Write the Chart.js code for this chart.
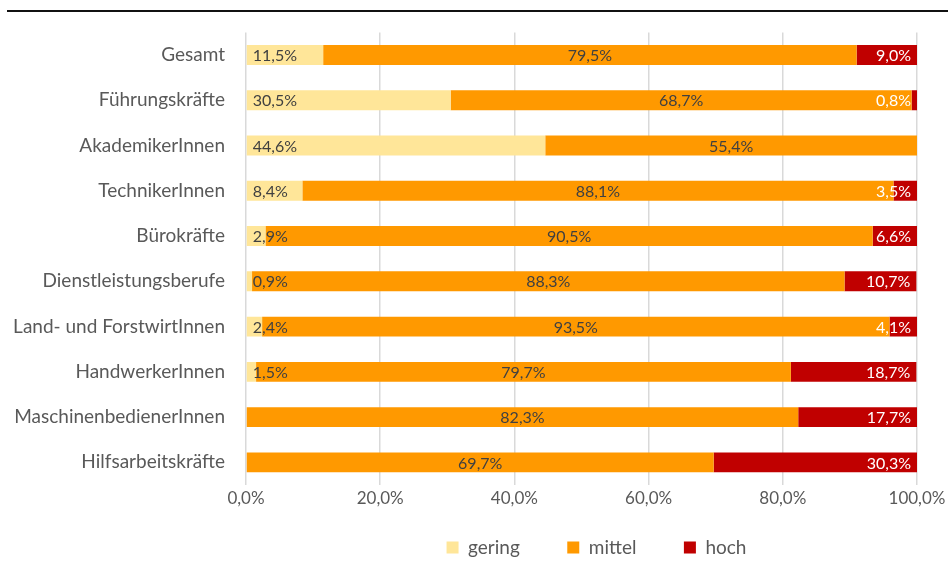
<!DOCTYPE html>
<html lang="de">
<head>
  <meta charset="UTF-8">
  <title>Anforderungsniveau nach Berufsgruppe</title>
  <script src="https://cdn.jsdelivr.net/npm/chart.js"></script>
  <style>
    body { margin: 0; background: #fff; }
    #wrap { position: relative; width: 948px; height: 583px; }
    #topline { position: absolute; left: 7px; right: 0; top: 10px; height: 2px; background: #111; }
  </style>
</head>
<body>
<div id="wrap">
  <div id="topline"></div>
  <canvas id="myChart" width="948" height="583"></canvas>
</div>
<script>
  // Kategorien und Anteile in Prozent
  const categories = ['Gesamt', 'Führungskräfte', 'AkademikerInnen', 'TechnikerInnen', 'Bürokräfte',
    'Dienstleistungsberufe', 'Land- und ForstwirtInnen', 'HandwerkerInnen', 'MaschinenbedienerInnen', 'Hilfsarbeitskräfte'];
  const gering = [11.5, 30.5, 44.6, 8.4, 2.9, 0.9, 2.4, 1.5, 0, 0];
  const mittel = [79.5, 68.7, 55.4, 88.1, 90.5, 88.3, 93.5, 79.7, 82.3, 69.7];
  const hoch   = [9.0, 0.8, 0, 3.5, 6.6, 10.7, 4.1, 18.7, 17.7, 30.3];
  const xTicks = [0, 20, 40, 60, 80, 100];

  const FONT = 'Lato, "DejaVu Sans", sans-serif';
  const fmt = v => v.toFixed(1).replace('.', ',') + '%';

  // Datenbeschriftungen: gering am Anfang, mittel mittig, hoch am Ende
  const barLabels = {
    id: 'barLabels',
    afterDatasetsDraw(chart) {
      const ctx = chart.ctx;
      ctx.save();
      ctx.font = '16px ' + FONT;
      ctx.textBaseline = 'middle';
      chart.data.datasets.forEach((ds, i) => {
        const meta = chart.getDatasetMeta(i);
        meta.data.forEach((bar, j) => {
          const v = ds.data[j];
          if (!v) return;
          const p = bar.getProps(['x', 'y', 'base'], true);
          if (i === 0) {
            ctx.fillStyle = '#404040';
            ctx.textAlign = 'left';
            ctx.fillText(fmt(v), p.base + 6, p.y + 1);
          } else if (i === 1) {
            ctx.fillStyle = '#404040';
            ctx.textAlign = 'center';
            ctx.fillText(fmt(v), (p.base + p.x) / 2, p.y + 1);
          } else {
            ctx.fillStyle = '#ffffff';
            ctx.textAlign = 'right';
            ctx.fillText(fmt(v), p.x - 6, p.y + 1);
          }
        });
      });
      ctx.restore();
    }
  };

  // Legende: weiter Abstand zwischen Einträgen, aber wenig Höhe
  const LEG_PAD = 47.5, LEG_VPAD = 10, LEG_DX = 140;
  const legendTweak = {
    id: 'legendTweak',
    afterInit(chart) {
      const lg = chart.legend;
      const fit = lg.fit;
      lg.fit = function () {
        fit.call(this);
        this.height -= (LEG_PAD - LEG_VPAD);
      };
      const draw = lg.draw;
      lg.draw = function () {
        const { top, left, right } = this;
        this.top = top - (LEG_PAD - LEG_VPAD) - 1;
        this.left = left + LEG_DX - 2;
        this.right = right + LEG_DX - 2;
        draw.call(this);
        this.top = top; this.left = left; this.right = right;
      };
    }
  };

  const ctx = document.getElementById('myChart').getContext('2d');
  new Chart(ctx, {
    type: 'bar',
    data: {
      labels: categories,
      datasets: [
        { label: 'gering', data: gering, backgroundColor: '#FFE699' },
        { label: 'mittel', data: mittel, backgroundColor: '#FF9900' },
        { label: 'hoch', data: hoch, backgroundColor: '#C00000' }
      ]
    },
    options: {
      indexAxis: 'y',
      responsive: false,
      animation: false,
      layout: { padding: { top: 31, right: 31, bottom: 15, left: 0 } },
      datasets: { bar: { categoryPercentage: 1, barPercentage: 0.44 } },
      scales: {
        x: {
          stacked: true,
          min: 0,
          max: 100,
          afterBuildTicks: s => { s.ticks = xTicks.map(v => ({ value: v })); },
          afterFit: s => { s.height = 44; s.paddingLeft = 0; s.paddingRight = 0; },
          grid: { color: '#d9d9d9', lineWidth: 1.5, drawTicks: false },
          border: { display: false },
          ticks: {
            color: '#595959',
            font: { family: FONT, size: 17 },
            padding: 3,
            callback: v => fmt(v)
          }
        },
        y: {
          stacked: true,
          afterFit: s => { s.width = 246; },
          grid: { display: false, drawTicks: false },
          border: { display: false },
          ticks: {
            color: '#595959',
            font: { family: FONT, size: 19 },
            padding: 21
          }
        }
      },
      plugins: {
        legend: {
          position: 'bottom',
          labels: {
            color: '#595959',
            font: { family: FONT, size: 19 },
            boxWidth: 12,
            boxHeight: 12,
            padding: LEG_PAD
          }
        },
        tooltip: { enabled: false }
      }
    },
    plugins: [barLabels, legendTweak]
  });
</script>
</body>
</html>
